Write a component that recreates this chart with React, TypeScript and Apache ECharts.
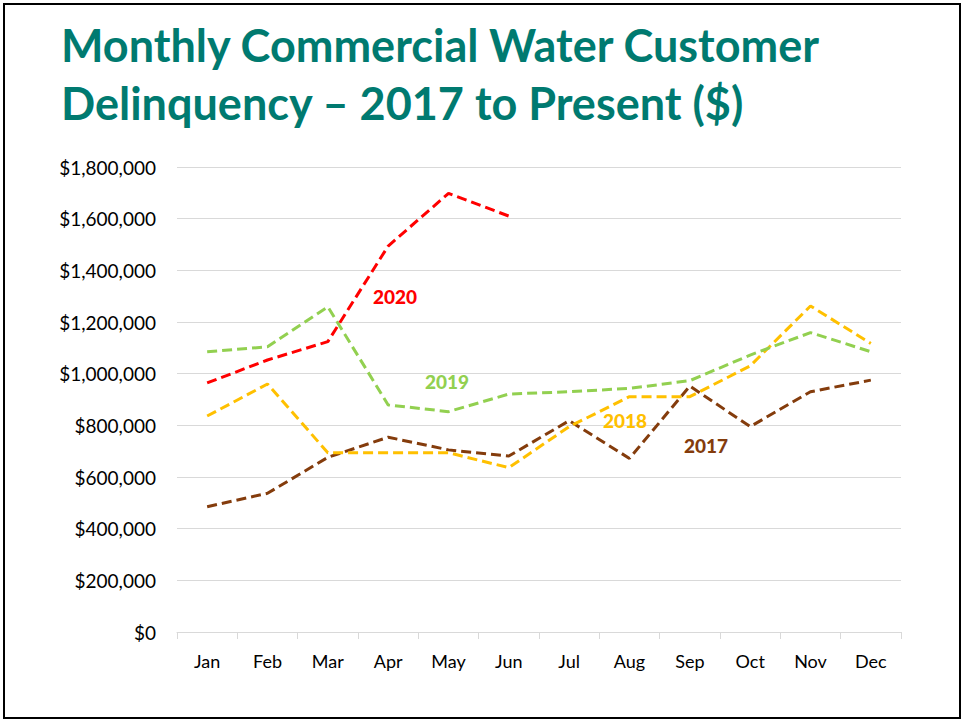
import React, { useEffect, useRef } from "react";
import * as echarts from "echarts";

const months = ["Jan", "Feb", "Mar", "Apr", "May", "Jun", "Jul", "Aug", "Sep", "Oct", "Nov", "Dec"];
const yTicks = [0, 200000, 400000, 600000, 800000, 1000000, 1200000, 1400000, 1600000, 1800000];
const values2017 = [485000, 537000, 676000, 754000, 705000, 681000, 818000, 672000, 952000, 795000, 930000, 975000];
const values2018 = [836000, 960000, 694000, 694000, 694000, 636000, 795000, 911000, 911000, 1030000, 1262000, 1117000];
const values2019 = [1085000, 1104000, 1259000, 879000, 853000, 921000, 930000, 943000, 973000, 1072000, 1159000, 1085000];
const values2020 = [964000, 1053000, 1124000, 1494000, 1698000, 1610000, null, null, null, null, null, null];
const seriesNames = ["2017", "2018", "2019", "2020"];
const colors = ["#843C0C", "#FFC000", "#92D050", "#FF0000"];
const titleLines = ["Monthly Commercial Water Customer", "Delinquency \u2013 2017 to Present ($)"];

const FONT = "Lato, 'Open Sans', sans-serif";

function fmt(v: number) {
  return "$" + v.toLocaleString("en-US");
}

export default function App() {
  const ref = useRef<HTMLDivElement>(null);
  useEffect(() => {
    if (!ref.current) return;
    const chart = echarts.init(ref.current, null, { renderer: "svg" });
    const data = [values2017, values2018, values2019, values2020];
    const labelPos = [
      [706, 445],
      [625, 420],
      [447, 381],
      [395, 296],
    ];
    chart.setOption({
      animation: false,
      backgroundColor: "#ffffff",
      title: {
        text: titleLines.join("\n"),
        left: 61,
        top: 16,
        padding: 0,
        textStyle: {
          fontFamily: FONT,
          fontWeight: "bold",
          fontSize: 45,
          lineHeight: 58,
          color: "#007A70",
        },
      },
      grid: { left: 177, right: 64, top: 167, bottom: 89, containLabel: false },
      xAxis: {
        type: "category",
        data: months,
        boundaryGap: true,
        axisLine: { show: true, lineStyle: { color: "#D9D9D9", width: 1 } },
        axisTick: { show: true, length: 7, lineStyle: { color: "#D9D9D9" } },
        axisLabel: { color: "#000", fontFamily: FONT, fontSize: 18, margin: 20 },
      },
      yAxis: {
        type: "value",
        min: yTicks[0],
        max: yTicks[yTicks.length - 1],
        interval: yTicks[1] - yTicks[0],
        axisLine: { show: false },
        axisTick: { show: false },
        splitLine: { lineStyle: { color: "#D9D9D9", width: 1 } },
        axisLabel: {
          color: "#000",
          fontFamily: FONT,
          fontSize: 19,
          margin: 21,
          formatter: (v: number) => fmt(v),
        },
      },
      series: seriesNames.map((name, i) => ({
        name,
        type: "line",
        data: data[i],
        symbol: "none",
        connectNulls: false,
        lineStyle: { color: colors[i], width: 3, type: [10, 5], cap: "butt" },
        itemStyle: { color: colors[i] },
        z: 2 + i,
      })),
      graphic: seriesNames.map((name, i) => ({
        type: "text",
        x: labelPos[i][0],
        y: labelPos[i][1],
        z: 100,
        style: {
          text: name,
          fill: colors[i],
          font: `900 19px ${FONT}`,
          textAlign: "center",
          textVerticalAlign: "middle",
        },
      })),
    });
    return () => chart.dispose();
  }, []);
  return (
    <div
      style={{
        position: "absolute",
        left: 0,
        top: 0,
        width: 965,
        height: 721,
        background: "#fff",
      }}
    >
      <div ref={ref} style={{ position: "absolute", left: 0, top: 0, width: 965, height: 721 }} />
      <div
        style={{
          position: "absolute",
          left: 3,
          top: 3,
          width: 958,
          height: 716,
          border: "2px solid #000",
          boxSizing: "border-box",
          pointerEvents: "none",
        }}
      />
    </div>
  );
}
